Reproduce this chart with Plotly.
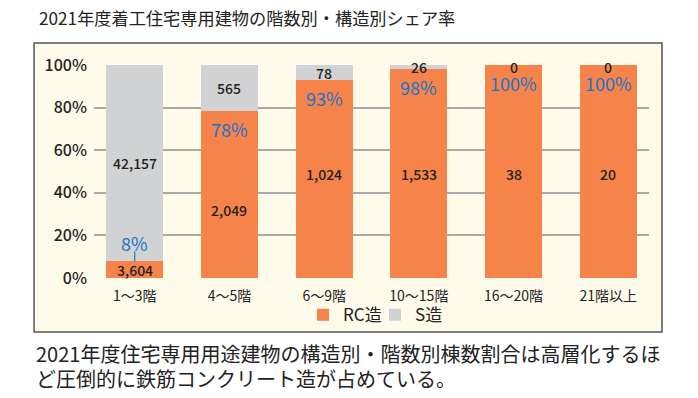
import plotly.graph_objects as go

# ---- data ----
categories = ["1〜3階", "4〜5階", "6〜9階", "10〜15階", "16〜20階", "21階以上"]
rc_counts = [3604, 2049, 1024, 1533, 38, 20]
s_counts = [42157, 565, 78, 26, 0, 0]
y_ticks = [0, 20, 40, 60, 80, 100]
y_tick_labels = ["0%", "20%", "40%", "60%", "80%", "100%"]
title_text = "2021年度着工住宅専用建物の階数別・構造別シェア率"
footer_lines = ["2021年度住宅専用用途建物の構造別・階数別棟数割合は高層化するほ",
                "ど圧倒的に鉄筋コンクリート造が占めている。"]

# ---- derived shares ----
totals = [r + s for r, s in zip(rc_counts, s_counts)]
rc_share = [100 * r / t for r, t in zip(rc_counts, totals)]
s_share = [100 * s / t for s, t in zip(s_counts, totals)]

# label placement tweaks (layout, in share units)
rc_label_pos = [rc_share[0] / 2, 32, 49, 49, 49, 49]

ORANGE = "#F5834A"
GRAY = "#D1D2D4"
BLUE = "#1C74C9"
CREAM = "#FFFBEA"
FONT = "Noto Sans CJK JP"

fig = go.Figure()
fig.add_trace(go.Bar(x=categories, y=rc_share, name="RC造", marker=dict(color=ORANGE, line=dict(width=0)),
                     width=0.6, hoverinfo="skip", legend="legend"))
fig.add_trace(go.Bar(x=categories, y=s_share, name="S造", marker=dict(color=GRAY, line=dict(width=0)),
                     width=0.6, hoverinfo="skip", legend="legend2"))

annotations = []
for i, c in enumerate(categories):
    annotations.append(dict(x=c, y=rc_label_pos[i], text=f"{rc_counts[i]:,}", showarrow=False,
                            font=dict(size=14, color="#222", family=FONT, weight=500), xref="x", yref="y",
                            yanchor="middle"))
    annotations.append(dict(x=c, y=min(rc_share[i] + s_share[i] / 2, 99.2), text=f"{s_counts[i]:,}",
                            showarrow=False, font=dict(size=14, color="#222", family=FONT, weight=500),
                            xref="x", yref="y", yanchor="middle"))
    pct = f"{round(rc_share[i])}%"
    shift = 18 if rc_share[i] < 50 else -18
    annotations.append(dict(x=c, y=rc_share[i], text=pct, showarrow=False, yshift=shift,
                            font=dict(size=18, color=BLUE, family=FONT), xref="x", yref="y",
                            yanchor="middle"))

annotations.append(dict(x=-0.103, y=1.225, xref="paper", yref="paper", text=title_text, showarrow=False,
                        xanchor="left", yanchor="middle", font=dict(size=17.2, color="#222", family=FONT)))
annotations.append(dict(x=-0.108, y=-0.355, xref="paper", yref="paper", text=footer_lines[0], showarrow=False,
                        xanchor="left", yanchor="middle", font=dict(size=20, color="#222", family=FONT)))
annotations.append(dict(x=-0.108, y=-0.472, xref="paper", yref="paper", text=footer_lines[1], showarrow=False,
                        xanchor="left", yanchor="middle", font=dict(size=20, color="#222", family=FONT)))

shapes = [
    dict(type="rect", xref="paper", yref="paper", x0=-0.108, x1=1.0234, y0=-0.2535, y1=1.1033,
         fillcolor=CREAM, line=dict(color="#555", width=1.5), layer="below"),
    dict(type="line", xref="x", yref="y", x0=categories[0], x1=categories[0],
         y0=rc_share[0], y1=rc_share[0] + 4.6, line=dict(color=BLUE, width=1.2)),
]

legend_common = dict(orientation="h", y=-0.175, xanchor="left", yanchor="middle",
                     font=dict(size=17, family=FONT, color="#222"), bgcolor="rgba(0,0,0,0)",
                     itemwidth=30)

fig.update_layout(
    barmode="stack",
    width=698, height=398,
    margin=dict(l=94, r=49, t=65, b=120),
    paper_bgcolor="white",
    plot_bgcolor="rgba(0,0,0,0)",
    font=dict(family=FONT, color="#222"),
    showlegend=True,
    legend=dict(x=(303 - 94) / 555, **legend_common),
    legend2=dict(x=(375 - 94) / 555, **legend_common),
    annotations=annotations,
    shapes=shapes,
)
fig.update_xaxes(range=[-0.43, 5.43], showgrid=False, zeroline=False, showline=False,
                 tickfont=dict(size=14, family=FONT, color="#222"), ticks="", ticklabelstandoff=8)
fig.update_yaxes(range=[0, 100], tickvals=y_ticks, ticktext=y_tick_labels, showgrid=True,
                 gridcolor="#A9A9A9", gridwidth=2, zeroline=False, showline=False,
                 tickfont=dict(size=16, family=FONT, color="#222", weight=500), ticks="", ticklabelstandoff=6)

fig.write_html("out.html", post_script="document.body.style.margin='0';",
               config={"displayModeBar": False})
